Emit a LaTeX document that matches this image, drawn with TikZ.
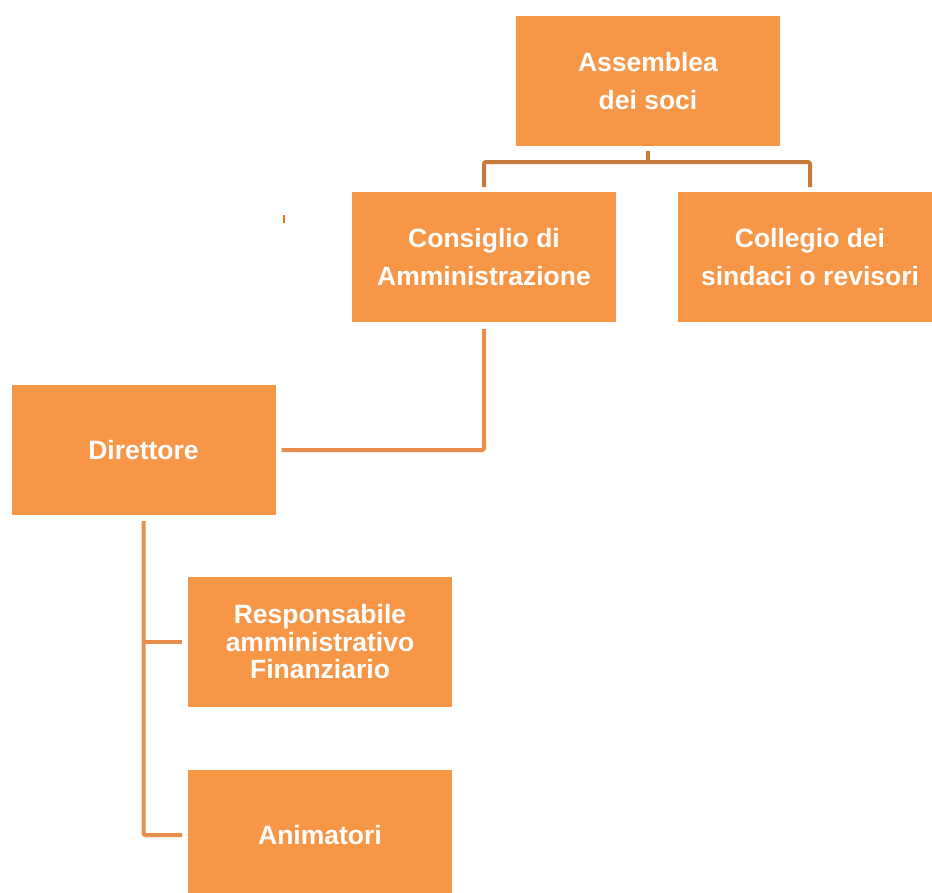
\documentclass[tikz,border=0pt]{standalone}
\usepackage{fontspec}
\setmainfont{Liberation Sans}
\usepackage{tikz}
\usetikzlibrary{positioning}

\definecolor{boxorange}{HTML}{F79646}
\definecolor{linktop}{HTML}{C67B3D}
\definecolor{linkdown}{HTML}{E98E4A}
\definecolor{tickorange}{HTML}{E8731C}

\begin{document}
\begin{tikzpicture}[x=1pt,y=1pt,node distance=62pt,
		org node/.style={rectangle,fill=boxorange,text=white,minimum width=264pt,minimum height=130pt,
			inner sep=0pt,outer sep=0pt,align=center,font=\fontsize{26.5}{38.5}\selectfont\bfseries},
		link top/.style={draw=linktop,line width=4pt,rounded corners=2pt},
		link/.style={draw=linkdown,line width=4pt,rounded corners=2pt}]
		
		\clip (0,0) rectangle (932,-892);
		
		\node[org node] (assemblea) at (648,-81) {Assemblea\\dei soci};
		\node[org node] (consiglio) [below=46pt of assemblea,xshift=-164pt] {Consiglio di\\Amministrazione};
		\node[org node] (collegio) [right=62pt of consiglio] {Collegio dei\\sindaci o revisori};
		\node[org node] (direttore) [below=63pt of consiglio,xshift=-340.5pt] {Direttore};
		\node[org node,font=\fontsize{26.5}{27.5}\selectfont\bfseries] (responsabile) [below=62pt of direttore,xshift=176.5pt] {Responsabile\\amministrativo\\Finanziario};
		\node[org node] (animatori) [below=63pt of responsabile] {Animatori};
		
		% assemblea -> consiglio, collegio
		\draw[link top] ([yshift=-5pt]assemblea.south) -- ++(0,-11pt) coordinate (fork);
		\draw[link top] ([yshift=5pt]consiglio.north) |- (fork) -| ([yshift=5pt]collegio.north);
		
		% consiglio -> direttore
		\draw[link] ([yshift=-7pt]consiglio.south) |- ([xshift=6pt]direttore.east);
		
		% direttore -> responsabile, animatori
		\coordinate (trunk) at (direttore.south |- responsabile.west);
		\draw[link] ([yshift=-6pt]direttore.south) |- ([xshift=-6pt]animatori.west);
		\draw[link] (trunk) -- ([xshift=-6pt]responsabile.west);
		
		\coordinate (tick a) at (284,-215);
		\coordinate (tick b) at (284,-222.5);
		\draw[tickorange,line width=2pt] (tick a) -- (tick b);
		
	\end{tikzpicture}
\end{document}
